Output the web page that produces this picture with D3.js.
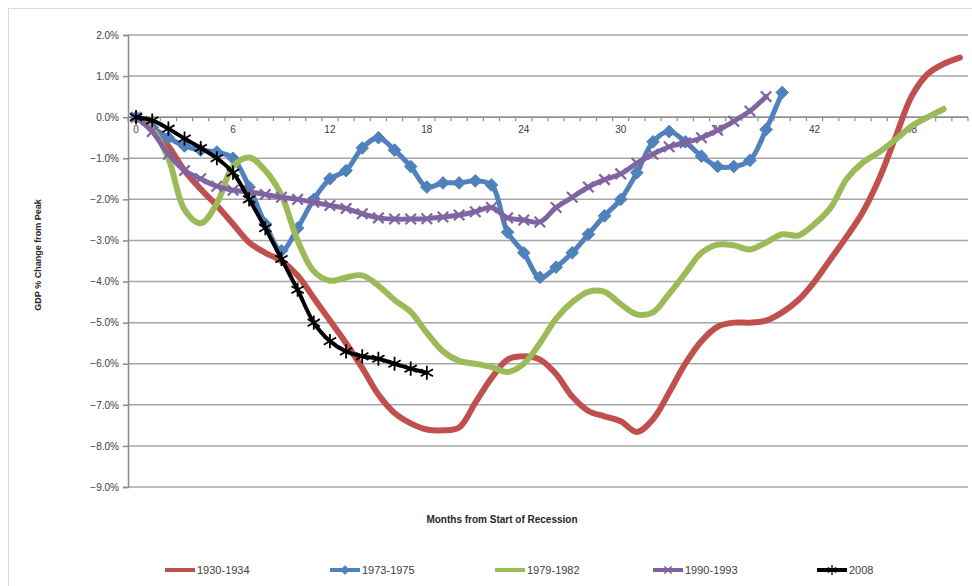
<!DOCTYPE html>
<html>
<head>
<meta charset="utf-8">
<script src="https://cdnjs.cloudflare.com/ajax/libs/d3/7.8.5/d3.min.js"></script>
<style>
  body { margin: 0; background: #fff; }
  svg { display: block; font-family: "Liberation Sans", Arial, sans-serif; }
</style>
</head>
<body>
<svg id="chart" width="972" height="586"></svg>
<script>
// chart values (GDP % change from peak, by month)
const yTicks = [2, 1, 0, -1, -2, -3, -4, -5, -6, -7, -8, -9];
const monthTicks = [0, 6, 12, 18, 24, 30, 36, 42, 48];
const monthCount = 52;

const red1930 = [0.0, -0.25, -0.7, -1.3, -1.75, -2.15, -2.6, -3.05, -3.3, -3.5, -3.85, -4.4, -4.95, -5.5, -6.1, -6.75, -7.2, -7.45, -7.6, -7.62, -7.55, -6.95, -6.35, -5.9, -5.82, -5.9, -6.25, -6.8, -7.15, -7.28, -7.4, -7.66, -7.35, -6.7, -6.0, -5.45, -5.1, -5.0, -5.0, -4.95, -4.75, -4.45, -4.0, -3.45, -2.9, -2.3, -1.5, -0.5, 0.5, 1.05, 1.3, 1.45];
const blue1973 = [0.0, -0.25, -0.5, -0.7, -0.8, -0.85, -1.0, -1.7, -2.6, -3.25, -2.7, -2.0, -1.5, -1.3, -0.75, -0.5, -0.8, -1.2, -1.7, -1.6, -1.6, -1.55, -1.65, -2.8, -3.3, -3.9, -3.65, -3.3, -2.85, -2.4, -2.0, -1.35, -0.6, -0.35, -0.6, -0.95, -1.2, -1.2, -1.05, -0.3, 0.6];
const green1979 = [0.0, -0.3, -1.0, -2.25, -2.58, -2.1, -1.2, -0.98, -1.3, -1.9, -3.0, -3.75, -3.98, -3.9, -3.85, -4.1, -4.45, -4.74, -5.25, -5.7, -5.93, -6.0, -6.08, -6.2, -6.0, -5.5, -4.9, -4.5, -4.25, -4.25, -4.55, -4.8, -4.75, -4.3, -3.8, -3.3, -3.1, -3.12, -3.22, -3.05, -2.85, -2.88, -2.6, -2.2, -1.5, -1.1, -0.85, -0.55, -0.22, 0.0, 0.2];
const purple1990 = [0.0, -0.35, -0.9, -1.3, -1.5, -1.68, -1.78, -1.82, -1.88, -1.95, -2.0, -2.07, -2.15, -2.22, -2.35, -2.45, -2.48, -2.48, -2.47, -2.43, -2.38, -2.3, -2.2, -2.45, -2.5, -2.55, -2.2, -1.95, -1.7, -1.52, -1.38, -1.12, -0.9, -0.72, -0.62, -0.5, -0.32, -0.1, 0.15, 0.5];
const black2008 = [0.0, -0.08, -0.28, -0.52, -0.75, -1.0, -1.35, -2.0, -2.7, -3.45, -4.2, -5.0, -5.45, -5.7, -5.82, -5.88, -6.0, -6.12, -6.22];

const seriesNames = ["1930-1934", "1973-1975", "1979-1982", "1990-1993", "2008"];

const series = [
    { name: seriesNames[0], values: red1930, color: "#c0504d", width: 6, marker: null },
    { name: seriesNames[1], values: blue1973, color: "#4f81bd", width: 5, marker: "diamond" },
    { name: seriesNames[2], values: green1979, color: "#9bbb59", width: 6, marker: null },
    { name: seriesNames[3], values: purple1990, color: "#8064a2", width: 5, marker: "x" },
    { name: seriesNames[4], values: black2008, color: "#000000", width: 4, marker: "star" }
];

const svg = d3.select("#chart");
const plot = { left: 128, right: 968, top: 35, bottom: 487 };

// outer chart border
svg.append("rect")
    .attr("x", 8.5).attr("y", 8.5)
    .attr("width", 1000).attr("height", 1000)
    .attr("fill", "#fff")
    .attr("stroke", "#d9d9d9");

const xScale = d3.scaleBand().domain(d3.range(monthCount)).range([plot.left, plot.right]);
const xMid = m => xScale(m) + xScale.bandwidth() / 2;
const yScale = d3.scaleLinear().domain([-9, 2]).range([plot.bottom, plot.top]);

// horizontal gridlines
svg.append("g")
    .selectAll("line")
    .data(yTicks)
    .enter()
    .append("line")
    .attr("x1", plot.left).attr("x2", plot.right)
    .attr("y1", d => yScale(d)).attr("y2", d => yScale(d))
    .attr("stroke", "#a6a6a6")
    .attr("stroke-width", 1.5);

// left value axis
const yAxis = svg.append("g")
    .attr("transform", `translate(${plot.left}, 0)`)
    .call(d3.axisLeft(yScale).tickValues(yTicks).tickSize(5).tickPadding(4)
        .tickFormat(d => d3.format(".1f")(d) + "%"));
yAxis.select(".domain").attr("stroke", "#8c8c8c").attr("stroke-width", 1.5);
yAxis.selectAll(".tick line").attr("stroke", "#8c8c8c").attr("stroke-width", 1.5);
yAxis.selectAll("text").style("font-size", "10px").attr("fill", "#404040");

// category axis sitting on the 0% line
const xAxis = svg.append("g")
    .attr("transform", `translate(0, ${yScale(0)})`);
xAxis.append("line")
    .attr("x1", plot.left).attr("x2", plot.right)
    .attr("stroke", "#8c8c8c").attr("stroke-width", 1.5);
xAxis.selectAll("line.tick")
    .data(d3.range(monthCount + 1))
    .enter()
    .append("line")
    .attr("class", "tick")
    .attr("x1", d => plot.left + d * xScale.step())
    .attr("x2", d => plot.left + d * xScale.step())
    .attr("y1", 0).attr("y2", 4)
    .attr("stroke", "#8c8c8c").attr("stroke-width", 1.2);
xAxis.selectAll("text")
    .data(monthTicks)
    .enter()
    .append("text")
    .attr("x", d => xMid(d))
    .attr("y", 16)
    .attr("text-anchor", "middle")
    .style("font-size", "10px")
    .attr("fill", "#404040")
    .text(d => d);

// axis titles
svg.append("text")
    .attr("x", 502).attr("y", 523)
    .attr("text-anchor", "middle")
    .style("font-size", "10px").style("font-weight", "bold")
    .attr("fill", "#262626")
    .text("Months from Start of Recession");

svg.append("text")
    .attr("transform", "translate(41, 255) rotate(-90)")
    .attr("text-anchor", "middle")
    .style("font-size", "9px").style("font-weight", "bold")
    .attr("fill", "#262626")
    .text("GDP % Change from Peak");

// marker shapes
const starType = {
    draw(context, size) {
        const r = Math.sqrt(size) / 2;
        context.moveTo(0, -r); context.lineTo(0, r);
        context.moveTo(-r * 0.87, -r * 0.5); context.lineTo(r * 0.87, r * 0.5);
        context.moveTo(-r * 0.87, r * 0.5); context.lineTo(r * 0.87, -r * 0.5);
    }
};
const xType = {
    draw(context, size) {
        const r = Math.sqrt(size) / 2;
        context.moveTo(-r, -r); context.lineTo(r, r);
        context.moveTo(-r, r); context.lineTo(r, -r);
    }
};
const squareDiamond = {
    draw(context, size) {
        const r = Math.sqrt(size) / 2;
        context.moveTo(0, -r); context.lineTo(r, 0);
        context.lineTo(0, r); context.lineTo(-r, 0);
        context.closePath();
    }
};
function markerPath(kind) {
    if (kind === "diamond") return d3.symbol().type(squareDiamond).size(160)();
    if (kind === "x") return d3.symbol().type(xType).size(110)();
    return d3.symbol().type(starType).size(200)();
}
function styleMarker(sel, s) {
    if (s.marker === "diamond") {
        sel.attr("fill", s.color).attr("stroke", s.color).attr("stroke-width", 1);
    } else {
        sel.attr("fill", "none").attr("stroke", s.color).attr("stroke-width", s.marker === "x" ? 2.2 : 1.8);
    }
}

const line = d3.line()
    .x((d, i) => xMid(i))
    .y(d => yScale(d))
    .curve(d3.curveCatmullRom.alpha(0.5));

series.forEach(s => {
    const g = svg.append("g").attr("class", "series");
    g.append("path")
        .datum(s.values)
        .attr("fill", "none")
        .attr("stroke", s.color)
        .attr("stroke-width", s.width)
        .attr("stroke-linejoin", "round")
        .attr("stroke-linecap", "round")
        .attr("d", line);
    if (s.marker) {
        g.selectAll("path.marker")
            .data(s.values)
            .enter()
            .append("path")
            .attr("class", "marker")
            .attr("transform", (d, i) => `translate(${xMid(i)}, ${yScale(d)})`)
            .attr("d", markerPath(s.marker))
            .call(styleMarker, s);
    }
});

// legend along the bottom
const legendX = [165, 330, 495, 653, 817];
const legend = svg.append("g").attr("class", "legend");
const legendItem = legend.selectAll(".legend-item")
    .data(series)
    .enter()
    .append("g")
    .attr("class", "legend-item")
    .attr("transform", (d, i) => `translate(${legendX[i]}, 570)`);

legendItem.append("line")
    .attr("x1", 0).attr("x2", 30)
    .attr("stroke", d => d.color)
    .attr("stroke-width", d => Math.min(d.width, 4));

legendItem.filter(d => d.marker)
    .append("path")
    .attr("transform", "translate(15, 0) scale(0.7)")
    .attr("d", d => markerPath(d.marker))
    .each(function(d) { d3.select(this).call(styleMarker, d); });

legendItem.append("text")
    .attr("x", 32)
    .attr("y", 4)
    .style("font-size", "11px")
    .attr("fill", "#404040")
    .text(d => d.name);
</script>
</body>
</html>
